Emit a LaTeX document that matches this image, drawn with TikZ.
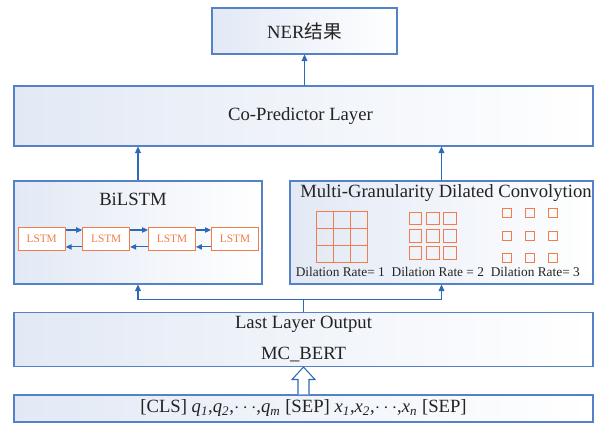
\documentclass[tikz,border=0pt]{standalone}
\usepackage{fontspec}
\setmainfont{Liberation Serif}
\newfontfamily\cjk{Noto Sans CJK SC}
\usetikzlibrary{arrows.meta,calc,positioning}

\definecolor{boxblue}{RGB}{84,130,200}
\definecolor{arrowblue}{RGB}{45,105,180}
\definecolor{boxshade}{RGB}{226,233,245}
\definecolor{lstmorange}{RGB}{240,125,75}
\definecolor{txtgray}{RGB}{35,35,35}

\def\px{0.75pt}   % one pixel of the picture
\newcommand{\tok}[2]{\textit{#1}\textsubscript{\textit{#2}}}

\begin{document}
\begin{tikzpicture}[
    x=0.75pt, y=-0.75pt,
    every node/.style={text=txtgray, font=\fontsize{14}{16}\selectfont},
    box/.style={draw=boxblue, line width=0.8pt, left color=boxshade, right color=white, inner sep=0pt},
    lstmbox/.style={draw=lstmorange, line width=0.7pt, fill=white, text=lstmorange,
        font=\fontsize{8.5}{10}\selectfont, minimum width=47*\px, minimum height=23*\px, inner sep=0pt},
    sq/.style={draw=lstmorange, line width=0.7pt},
    rate/.style={font=\fontsize{10}{12}\selectfont},
    arr/.style={-{Triangle[width=4.5pt,length=5pt]}, draw=arrowblue, line width=0.8pt},
    smallarr/.style={-{Triangle[width=4pt,length=4.5pt]}, draw=arrowblue, line width=0.8pt}
]

\useasboundingbox (0,0) rectangle (599,423);

% layers
\node[box, minimum width=185*\px, minimum height=46*\px] (ner) at (304.5,31) {NER{\cjk 结果}};
\node[box, minimum width=579*\px, minimum height=60*\px] (copred) at (303.5,116) {};
\node (copredtext) at (300.5,116) {Co-Predictor Layer};

\node[box, minimum width=248*\px, minimum height=103*\px] (bilstm) at (138,232.5) {};
\node (bititle) at (133,199) {BiLSTM};

\node[box, minimum width=303*\px, minimum height=103*\px] (mgdc) at (441.5,232.5) {};
\node (mgtitle) at (446,193) {Multi-Granularity Dilated Convolytion};

\node[box, minimum width=579*\px, minimum height=54*\px] (last) at (303.5,339.5) {};
\node (lasttext) at (303.5,324.5) {Last Layer Output};
\node (berttext) at (303.5,355) {MC\_BERT};

\node[box, minimum width=579*\px, minimum height=27*\px] (input) at (303.5,408.5)
    {[CLS] \tok{q}{1},\tok{q}{2},$\cdots$,\tok{q}{m} [SEP] \tok{x}{1},\tok{x}{2},$\cdots$,\tok{x}{n} [SEP]};

% LSTM chain
\foreach \n/\xx in {1/41.7, 2/106.2, 3/172, 4/235}
    \node[lstmbox] (l\n) at (\xx,238.8) {LSTM};
\foreach \a/\b in {1/2, 2/3, 3/4}{
    \draw[smallarr] ([yshift=6.6pt]l\a.east) -- ([yshift=6.6pt]l\b.west);
    \draw[smallarr] ([yshift=-6.1pt]l\b.west) -- ([yshift=-6.1pt]l\a.east);
}

% dilated kernels
\foreach \cx/\cy/\sz/\dx/\dy in {342/237/17/17/17, 432.8/235.8/12.7/17.4/17.4, 530.2/235.8/9/23/22.5}
    \foreach \i in {-1,0,1}
        \foreach \j in {-1,0,1}
            \draw[sq] ({\cx+\i*\dx-\sz/2},{\cy+\j*\dy-\sz/2}) rectangle +(\sz,\sz);

\node[rate] (rate1) at (340.3,272) {Dilation Rate= 1};
\node[rate] (rate2) at (437.8,272) {Dilation Rate = 2};
\node[rate] (rate3) at (535.3,272) {Dilation Rate= 3};

% connectors
\draw[arr] (ner.south |- copred.north) -- (ner.south);
\draw[arr] (bilstm.north) -- (bilstm.north |- copred.south);
\draw[arr] (mgdc.north) -- (mgdc.north |- copred.south);

\coordinate (split) at ($(last.north)+(0,-12.8)$);
\draw[draw=arrowblue, line width=0.8pt] (last.north) -- (split);
\draw[arr] (split) -| (bilstm.south);
\draw[arr] (split) -| (mgdc.south);

% hollow arrow into MC_BERT
\draw[draw=arrowblue, fill=white, line width=0.8pt, line join=miter]
    ($(input.north)+(-5.5,0)$) -- ($(last.south)+(-5.5,12.5)$)
    -- ($(last.south)+(-11.5,12.5)$) -- (last.south)
    -- ($(last.south)+(11.5,12.5)$) -- ($(last.south)+(5.5,12.5)$)
    -- ($(input.north)+(5.5,0)$);

\end{tikzpicture}
\end{document}
